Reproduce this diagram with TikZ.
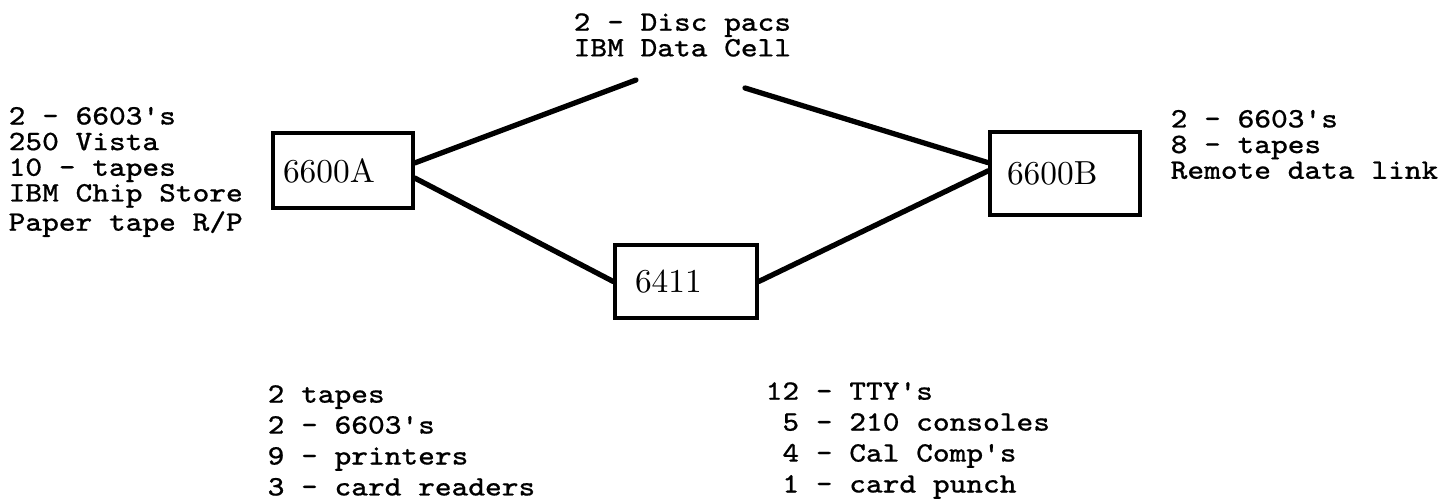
\documentclass[tikz,border=0pt]{standalone}
\usepackage{fontspec}
\newfontfamily\typer[Ligatures=TeXOff,FakeStretch=1.12,FakeBold=0.6]{Latin Modern Mono}
\usetikzlibrary{positioning}

\begin{document}
\begin{tikzpicture}[
  unit/.style={draw,line width=1pt,minimum height=0.75cm,inner xsep=0.1cm,align=left,font=\fontsize{9.5}{10}\selectfont},
  link/.style={line width=1.5pt,line cap=round},
  kit/.style={font=\typer\fontsize{8}{7.3}\selectfont,align=left,anchor=west,inner sep=0pt},
  wide/.style={font=\typer\fontsize{8}{8.8}\selectfont}
]
\useasboundingbox (0,0) rectangle (14.43,5);

% machines
\node[unit,text width=1.2cm] (cpuA) at (3.43,3.295) {6600A};
\node[unit,text width=1.16cm,inner xsep=0.17cm,minimum height=0.83cm] (cpuB) at (10.65,3.265) {6600B};
\node[unit,text width=1.02cm,inner xsep=0.2cm,minimum height=0.73cm] (conc) at (6.86,2.185) {6411};

% shared disc
\coordinate (discL) at (6.36,4.20);
\coordinate (discR) at (7.45,4.12);

\draw[link] (cpuA.6) -- (discL);
\draw[link] (cpuA.-6) -- (conc.west);
\draw[link] (discR) -- (cpuB.172);
\draw[link] (conc.east) -- (cpuB.178);

% equipment lists
\node[kit] (disc) at (5.73,4.65) {2 - Disc pacs\\IBM Data Cell};
\node[kit] (kitA) at (0.08,3.28) {2 - 6603's\\250 Vista\\10 - tapes\\IBM Chip Store\\Paper tape R/P};
\node[kit] (kitB) at (11.70,3.555) {2 - 6603's\\8 - tapes\\Remote data link};
\node[kit,wide] (kitC) at (2.67,0.595) {2 tapes\\2 - 6603's\\9 - printers\\3 - card readers};
\node[kit,wide] (kitD) at (7.65,0.595) {12 - TTY's\\\ 5 - 210 consoles\\\ 4 - Cal Comp's\\\ 1 - card punch};
\end{tikzpicture}
\end{document}
